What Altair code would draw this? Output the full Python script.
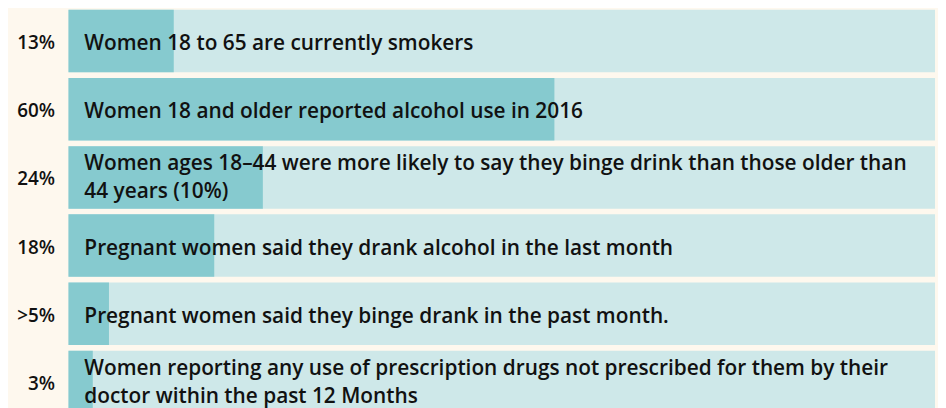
import altair as alt
import pandas as pd

labels = ["13%", "60%", "24%", "18%", ">5%", "3%"]
values = [13, 60, 24, 18, 5, 3]
texts = [
    "Women 18 to 65 are currently smokers",
    "Women 18 and older reported alcohol use in 2016",
    "Women ages 18\u201344 were more likely to say they binge drink than those older than\n44 years (10%)",
    "Pregnant women said they drank alcohol in the last month",
    "Pregnant women said they binge drank in the past month.",
    "Women reporting any use of prescription drugs not prescribed for them by their\ndoctor within the past 12 Months",
]
SCALE_MAX = 107

df = pd.DataFrame({"label": labels, "value": values, "text": texts})
parts = df["text"].str.split("\n")
df["line1"] = parts.str[0]
df["line2"] = parts.str[1].fillna("")
df["nlines"] = parts.str.len()

FONT = "Open Sans"
TXT = "#111111"
ycfg = alt.Y("label:N", sort=labels,
             scale=alt.Scale(paddingInner=0.084, paddingOuter=0),
             axis=alt.Axis(title=None, ticks=False, domain=False, labelPadding=14,
                           labelFontSize=19, labelColor=TXT, labelFont=FONT,
                           labelFontWeight=600, labelOffset=2))
xscale = alt.Scale(domain=[0, SCALE_MAX], nice=False, zero=True)

base = alt.Chart(df)

bg = base.mark_bar(color="#cee8e9").encode(
    y=ycfg,
    x=alt.datum(0, scale=xscale, axis=None),
    x2=alt.datum(SCALE_MAX),
)
fg = base.mark_bar(color="#86cacf").encode(
    y=ycfg,
    x=alt.X("value:Q", scale=xscale, axis=None),
)

tstyle = dict(align="left", baseline="middle", dx=16, fontSize=21,
              font=FONT, fontWeight=600, color=TXT)

single = base.transform_filter("datum.nlines == 1").mark_text(dy=3, **tstyle).encode(
    y=ycfg, x=alt.value(0), text="line1:N")
first = base.transform_filter("datum.nlines == 2").mark_text(dy=-13, **tstyle).encode(
    y=ycfg, x=alt.value(0), text="line1:N")
second = base.transform_filter("datum.nlines == 2").mark_text(dy=15, **tstyle).encode(
    y=ycfg, x=alt.value(0), text="line2:N")

chart = alt.layer(bg, fg, single, first, second).properties(
    width=874, height=407,
    autosize=alt.AutoSizeParams(type="none"),
    padding={"left": 61, "top": 0, "right": 3, "bottom": 0},
    background="#fef8ee",
).configure_view(stroke=None)

chart.save("out.html", embed_options={"renderer": "svg", "actions": False})
